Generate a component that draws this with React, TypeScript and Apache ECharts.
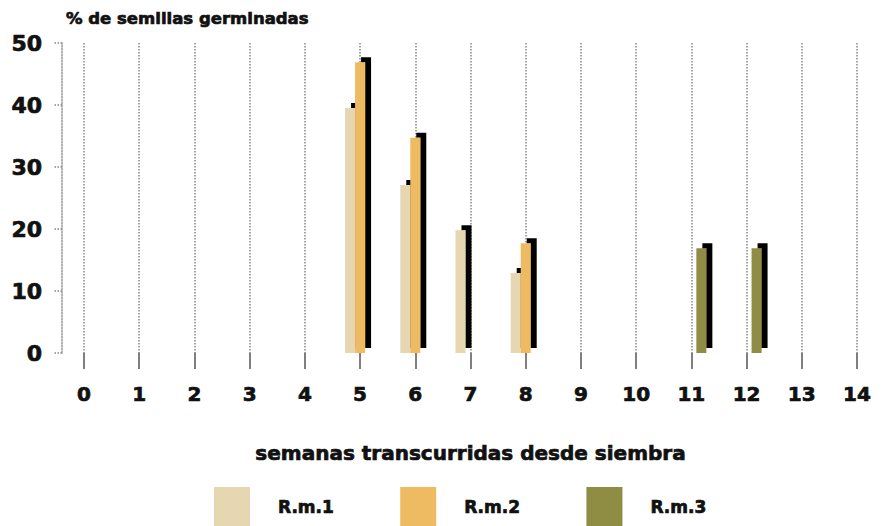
import React, { useEffect, useRef } from "react";
import * as echarts from "echarts";

const weeks = ["0", "1", "2", "3", "4", "5", "6", "7", "8", "9", "10", "11", "12", "13", "14"];
const rm1 = [null, null, null, null, null, 39.5, 27.1, 19.8, 12.9, null, null, null, null, null, null];
const rm2 = [null, null, null, null, null, 46.9, 34.7, null, 17.7, null, null, null, null, null, null];
const rm3 = [null, null, null, null, null, null, null, null, null, null, null, 16.9, 16.9, null, null];
const seriesNames = ["R.m.1", "R.m.2", "R.m.3"];
const colors = ["#e6d6b2", "#efbb62", "#8f8c44"];
const yTicks = [0, 10, 20, 30, 40, 50];

const FONT = "DejaVu Sans";
const heavy = { fontFamily: FONT, fontWeight: "bold", color: "#111", textBorderColor: "#111", textBorderWidth: 0.7 };

export default function App() {
  const ref = useRef<HTMLDivElement>(null);
  useEffect(() => {
    if (!ref.current) return;
    const chart = echarts.init(ref.current, null, { renderer: "svg" });
    const values = [rm1, rm2, rm3];
    chart.setOption({
      animation: false,
      backgroundColor: "#ffffff",
      grid: { left: 84, right: 26, top: 43, bottom: 173, containLabel: false },
      legend: {
        left: 214,
        top: 487,
        padding: 0,
        itemWidth: 36,
        itemHeight: 40,
        itemGap: 66,
        icon: "rect",
        data: seriesNames,
        itemStyle: { shadowColor: "rgba(0,0,0,0)", shadowOffsetX: 0, shadowOffsetY: 0, shadowBlur: 0 },
        textStyle: { ...heavy, fontSize: 17, padding: [4, 0, 0, 23] },
      },
      xAxis: {
        type: "category",
        data: weeks,
        boundaryGap: false,
        name: "semanas transcurridas desde siembra",
        nameLocation: "middle",
        nameGap: 90,
        nameTextStyle: { ...heavy, fontSize: 20 },
        axisLine: { show: false },
        axisTick: { show: true, length: 16, interval: 0, lineStyle: { color: "#555", width: 1.5 } },
        axisLabel: { interval: 0, margin: 31, ...heavy, fontSize: 20 },
        splitLine: {
          show: true,
          interval: 0,
          lineStyle: { type: "dotted", color: "#888", width: 1.5 },
        },
      },
      yAxis: {
        type: "value",
        min: 0,
        max: 50,
        interval: 10,
        offset: 22,
        name: "% de semillas germinadas",
        nameLocation: "end",
        nameGap: 25,
        nameTextStyle: {
          ...heavy,
          fontSize: 16.5,
          align: "left",
          verticalAlign: "middle",
          padding: [0, 0, 0, 4],
        },
        axisLine: { show: true, lineStyle: { type: "dotted", color: "#999", width: 1.5 } },
        axisTick: { show: true, length: 8, lineStyle: { type: "dotted", color: "#888", width: 1.5 } },
        axisLabel: { margin: 20, ...heavy, fontSize: 22, customValues: yTicks },
        splitLine: { show: false },
      },
      series: seriesNames.map((name, i) => ({
        name,
        type: "bar",
        data: values[i],
        barWidth: 10,
        barGap: "0%",
        itemStyle: {
          color: colors[i],
          shadowColor: "#000000",
          shadowBlur: 0,
          shadowOffsetX: 6,
          shadowOffsetY: -5,
        },
      })),
    });
    return () => chart.dispose();
  }, []);
  return <div ref={ref} style={{ position: "fixed", left: 0, top: 0, width: 883, height: 526 }} />;
}
